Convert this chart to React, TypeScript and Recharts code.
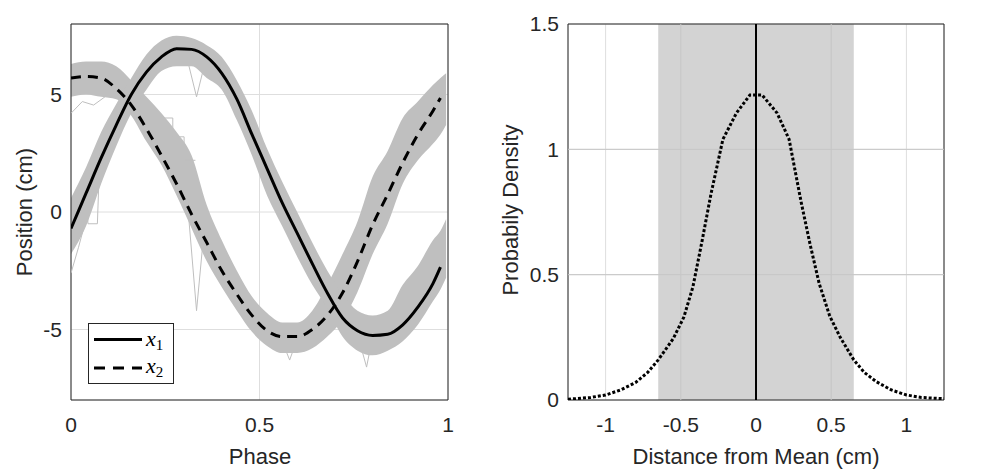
import React from 'react';
import {
  ComposedChart, Line, Area, XAxis, YAxis, CartesianGrid, ReferenceArea, ReferenceLine,
} from 'recharts';

// left panel: phase grid, mean trajectories and the spread of the grey trials
const phase = [0, 0.04, 0.08, 0.12, 0.16, 0.2, 0.24, 0.28, 0.32, 0.36, 0.4, 0.44, 0.48, 0.52, 0.56, 0.6, 0.64, 0.68, 0.72, 0.76, 0.8, 0.84, 0.88, 0.92, 0.96, 0.98, 0.995];
const x1Mean = [-0.7, 0.8, 2.3, 3.7, 5.0, 5.95, 6.6, 6.95, 6.92, 6.6, 5.9, 4.8, 3.3, 1.85, 0.4, -0.9, -2.2, -3.45, -4.5, -5.05, -5.25, -5.2, -4.8, -4.05, -3.05, -2.35, null];
const x2Mean = [5.7, 5.77, 5.7, 5.25, 4.55, 3.55, 2.4, 1.2, -0.1, -1.3, -2.5, -3.5, -4.4, -5.05, -5.3, -5.3, -5.0, -4.4, -3.45, -2.1, -0.55, 0.75, 2.1, 3.3, 4.3, 4.85, null];
const x1Lo = [-1.8, -0.6, 1.2, 2.8, 4.2, 5.2, 6.0, 6.2, 6.2, 5.7, 5.2, 3.9, 2.4, 0.7, -0.6, -1.9, -3.1, -4.1, -5.3, -5.9, -6.1, -5.9, -5.5, -4.8, -3.8, -3.3, -2.8];
const x1Hi = [0.6, 1.9, 3.4, 4.6, 5.7, 6.7, 7.3, 7.5, 7.4, 7.1, 6.6, 5.6, 4.3, 2.7, 1.3, 0.0, -1.3, -2.5, -3.5, -4.2, -4.4, -4.2, -3.1, -2.3, -1.2, -0.8, -0.3];
const x2Lo = [4.9, 5.0, 4.9, 4.8, 4.1, 3.0, 2.0, 0.7, -0.7, -2.1, -3.2, -4.2, -5.1, -5.7, -6.0, -6.0, -5.8, -5.3, -4.6, -3.4, -1.8, -0.5, 1.2, 2.2, 2.9, 3.3, 3.7];
const x2Hi = [6.3, 6.4, 6.4, 6.2, 5.6, 4.9, 4.2, 3.4, 2.4, 0.3, -1.2, -2.5, -3.6, -4.3, -4.7, -4.7, -4.2, -3.1, -1.8, -0.4, 1.5, 2.6, 4.0, 4.7, 5.4, 5.7, 5.9];

// a few stray trials that leave the grey band
const strayAP = [0, 0.03, 0.06, 0.09, 0.12];
const strayAV = [4.2, 4.7, 4.55, 4.9, 5.2];
const strayBP = [0, 0.02, 0.04];
const strayBV = [-2.6, -1.5, -0.3];
const strayCP = [0.31, 0.333, 0.35];
const strayCV = [6.4, 4.9, 6.0];
const strayDP = [0.31, 0.333, 0.35];
const strayDV = [0.2, -4.2, -1.3];
const strayEP = [0.76, 0.784, 0.8];
const strayEV = [-5.2, -6.6, -5.3];
const strayFP = [0.56, 0.58, 0.6];
const strayFV = [-5.5, -6.3, -5.4];
const strayGP = [0.24, 0.27, 0.27, 0.3, 0.3, 0.33];
const strayGV = [4.0, 4.0, 3.2, 3.2, 2.2, 2.2];
const strayHP = [0.04, 0.045, 0.07, 0.075];
const strayHV = [1.0, -0.5, -0.5, 1.8];

const phaseTicks = [0, 0.5, 1];
const posTicks = [-5, 0, 5];

// right panel: density of the distance from the mean
const dist = [-1.25, -1.1, -1.0, -0.9, -0.8, -0.72, -0.65, -0.55, -0.48, -0.42, -0.36, -0.3, -0.22, -0.13, -0.04, 0.04, 0.14, 0.22, 0.3, 0.36, 0.42, 0.49, 0.56, 0.65, 0.72, 0.8, 0.9, 1.0, 1.1, 1.25];
const density = [0.003, 0.01, 0.02, 0.04, 0.07, 0.11, 0.16, 0.245, 0.33, 0.45, 0.63, 0.82, 1.04, 1.145, 1.217, 1.217, 1.145, 1.04, 0.79, 0.62, 0.465, 0.335, 0.25, 0.16, 0.11, 0.073, 0.04, 0.02, 0.01, 0.005];
const bandEdge = 0.65;
const distTicks = [-1, -0.5, 0, 0.5, 1];
const densTicks = [0, 0.5, 1, 1.5];

const FONT = '"Liberation Sans", Arial, Helvetica, sans-serif';
const INK = '#262626';
const GREY = '#bfbfbf';
const tickStyle = { fill: INK, fontSize: 21, fontFamily: FONT };

const leftRows = phase.map((p, i) => ({
  p,
  x1: x1Mean[i],
  x2: x2Mean[i],
  b1: [x1Lo[i], x1Hi[i]],
  b2: [x2Lo[i], x2Hi[i]],
}));

const toTrace = (ps: number[], vs: number[]) => ps.map((p, i) => ({ p, v: vs[i] }));
const strays = [
  toTrace(strayAP, strayAV),
  toTrace(strayBP, strayBV),
  toTrace(strayCP, strayCV),
  toTrace(strayDP, strayDV),
  toTrace(strayEP, strayEV),
  toTrace(strayFP, strayFV),
  toTrace(strayGP, strayGV),
  toTrace(strayHP, strayHV),
];

const rightRows = dist.map((d, i) => ({ d, pdf: density[i] }));

function PhasePanel() {
  return (
    <ComposedChart width={470} height={472} data={leftRows} margin={{ top: 24, right: 22, bottom: 42, left: 31 }}>
      <CartesianGrid stroke="#dedede" />
      <XAxis dataKey="p" type="number" domain={[0, 1]} ticks={phaseTicks} allowDataOverflow
        tickSize={0} tickMargin={17} axisLine={false} height={30} tick={tickStyle} />
      <YAxis type="number" domain={[-8, 8]} ticks={posTicks} allowDataOverflow
        tickSize={0} tickMargin={9} axisLine={false} width={40} tick={tickStyle} />
      <Area dataKey="b2" type="monotone" stroke="none" fill={GREY} fillOpacity={1} isAnimationActive={false} />
      <Area dataKey="b1" type="monotone" stroke="none" fill={GREY} fillOpacity={1} isAnimationActive={false} />
      {strays.map((s, i) => (
        <Line key={i} data={s} dataKey="v" type="linear" stroke={GREY} strokeWidth={1} dot={false} isAnimationActive={false} />
      ))}
      <Line dataKey="x2" type="monotone" stroke="#000" strokeWidth={3} strokeDasharray="10 7" dot={false} isAnimationActive={false} />
      <Line dataKey="x1" type="monotone" stroke="#000" strokeWidth={3} dot={false} isAnimationActive={false} />
      <ReferenceArea x1={0} x2={1} y1={-8} y2={8} fill="none" stroke={INK} strokeWidth={1} ifOverflow="visible" />
    </ComposedChart>
  );
}

function DensityPanel() {
  return (
    <ComposedChart width={502} height={472} data={rightRows} margin={{ top: 24, right: 48, bottom: 42, left: 38 }}>
      <CartesianGrid stroke="#dedede" />
      <XAxis dataKey="d" type="number" domain={[-1.25, 1.25]} ticks={distTicks} allowDataOverflow
        tickSize={0} tickMargin={17} axisLine={false} height={30} tick={tickStyle} />
      <YAxis type="number" domain={[0, 1.5]} ticks={densTicks} allowDataOverflow
        tickSize={0} tickMargin={9} axisLine={false} width={40} tick={tickStyle} />
      <ReferenceArea x1={-bandEdge} x2={bandEdge} y1={0} y2={1.5} fill="#d3d3d3" fillOpacity={1} stroke="none" />
      <ReferenceLine x={-0.5} stroke="#c6c6c6" />
      <ReferenceLine x={0.5} stroke="#c6c6c6" />
      <ReferenceLine y={0.5} stroke="#c6c6c6" />
      <ReferenceLine y={1} stroke="#c6c6c6" />
      <ReferenceLine x={0} stroke="#000" strokeWidth={2} />
      <Line dataKey="pdf" type="linear" stroke="#000" strokeWidth={3} strokeDasharray="3 2" dot={false} isAnimationActive={false} />
      <ReferenceArea x1={-1.25} x2={1.25} y1={0} y2={1.5} fill="none" stroke={INK} strokeWidth={1} ifOverflow="visible" />
    </ComposedChart>
  );
}

export default function App() {
  return (
    <div style={{ position: 'fixed', left: 0, top: 0, width: 992, height: 472, background: '#fff', fontFamily: FONT }}>
      <div style={{ position: 'absolute', left: 0, top: 0 }}>
        <PhasePanel />
      </div>
      <div style={{ position: 'absolute', left: 490, top: 0 }}>
        <DensityPanel />
      </div>
      <svg width={992} height={472} style={{ position: 'absolute', left: 0, top: 0, pointerEvents: 'none' }}>
        <g fill={INK} fontFamily={FONT} fontSize={22}>
          <text x={260} y={464} textAnchor="middle">Phase</text>
          <text transform="translate(31.5,212) rotate(-90)" textAnchor="middle">Position (cm)</text>
          <text x={756} y={464} textAnchor="middle">Distance from Mean (cm)</text>
          <text transform="translate(518,210) rotate(-90)" textAnchor="middle">Probabily Density</text>
        </g>
        <g>
          <rect x={88.5} y={323.5} width={85} height={60} fill="#fff" stroke={INK} strokeWidth={1} />
          <line x1={94} y1={339.5} x2={142} y2={339.5} stroke="#000" strokeWidth={3} />
          <line x1={94} y1={368} x2={142} y2={368} stroke="#000" strokeWidth={3} strokeDasharray="11 8" />
          <text x={146} y={346} fontFamily='"Liberation Serif", "DejaVu Serif", serif' fontStyle="italic" fontSize={22} fill="#000">
            x<tspan fontStyle="normal" fontSize={15} dy={4}>1</tspan>
          </text>
          <text x={146} y={373} fontFamily='"Liberation Serif", "DejaVu Serif", serif' fontStyle="italic" fontSize={22} fill="#000">
            x<tspan fontStyle="normal" fontSize={15} dy={4}>2</tspan>
          </text>
        </g>
      </svg>
    </div>
  );
}
